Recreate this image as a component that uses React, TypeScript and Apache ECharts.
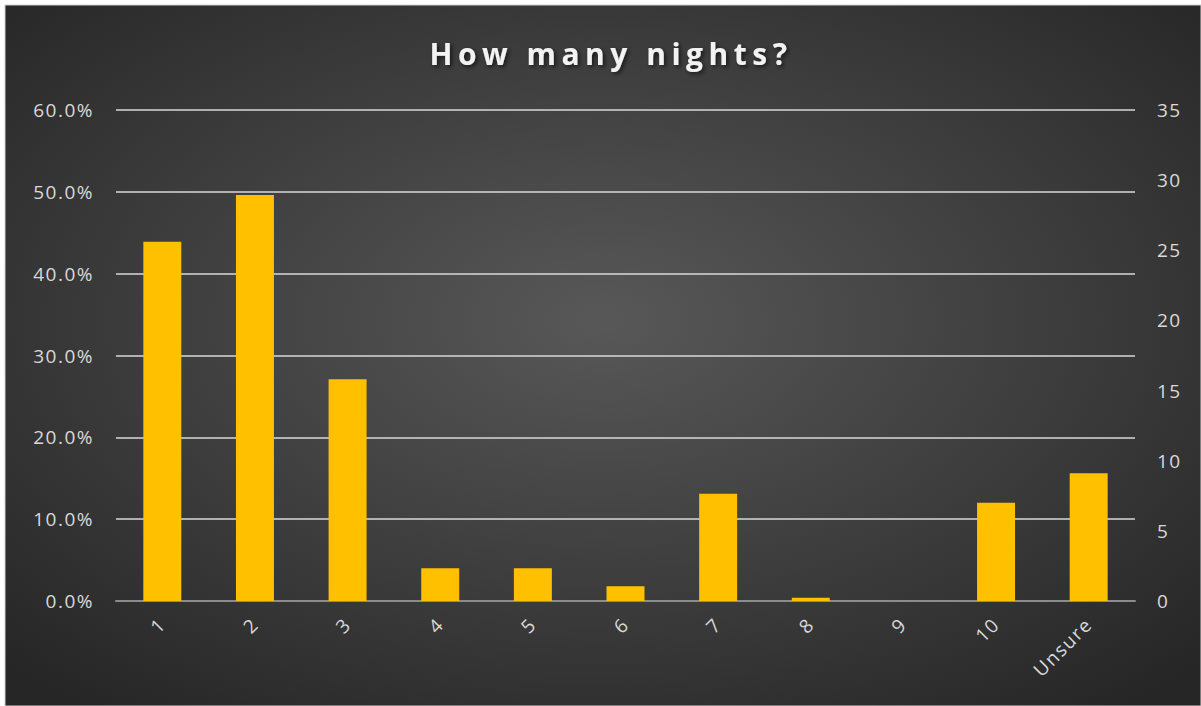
import React, { useEffect, useRef } from "react";
import * as echarts from "echarts";

const categories = ["1", "2", "3", "4", "5", "6", "7", "8", "9", "10", "Unsure"];
const percentValues = [0.439, 0.496, 0.271, 0.04, 0.04, 0.018, 0.131, 0.004, 0, 0.12, 0.156];
const leftTicks = { min: 0, max: 0.6, interval: 0.1 };
const rightTicks = { min: 0, max: 35, interval: 5 };
const title = "How many nights?";

export default function App() {
  const ref = useRef<HTMLDivElement>(null);
  useEffect(() => {
    document.body.style.margin = "0";
    const chart = echarts.init(ref.current!, undefined, { renderer: "svg" });
    const labelColor = "#d9d9d9";
    const font = "Open Sans";
    chart.setOption({
      animation: false,
      backgroundColor: "#ffffff",
      graphic: [
        {
          type: "rect",
          z: -10,
          shape: { x: 5, y: 5, width: 1196, height: 701 },
          style: {
            fill: new echarts.graphic.RadialGradient(0.5, 0.45, 0.7, [
              { offset: 0, color: "#585858" },
              { offset: 1, color: "#262626" },
            ]),
            stroke: "#d0d0d0",
            lineWidth: 1,
          },
        },
      ],
      title: {
        text: title,
        left: 606,
        top: 33,
        textAlign: "center",
        textStyle: {
          color: "#f2f2f2",
          fontFamily: font,
          fontWeight: "bold",
          fontSize: 30,
          textShadowColor: "rgba(0,0,0,0.6)",
          textShadowBlur: 4,
          textShadowOffsetX: 2,
          textShadowOffsetY: 2,
        },
      },
      grid: { left: 116, right: 66, top: 110, bottom: 105 },
      xAxis: {
        type: "category",
        data: categories,
        axisLine: { lineStyle: { color: "#8c8c8c", width: 2 } },
        axisTick: { show: false },
        axisLabel: {
          rotate: 45,
          color: labelColor,
          fontFamily: font,
          fontSize: 19,
          margin: 20,
          padding: [30, 0, 0, 0],
        },
      },
      yAxis: [
        {
          type: "value",
          ...leftTicks,
          axisLine: { show: false },
          axisTick: { show: false },
          splitLine: { lineStyle: { color: "#d9d9d9", width: 1.5 } },
          axisLabel: {
            color: labelColor,
            fontFamily: font,
            fontSize: 19,
            margin: 22,
            formatter: (v: number) => (v * 100).toFixed(1) + "%",
          },
        },
        {
          type: "value",
          ...rightTicks,
          position: "right",
          axisLine: { show: false },
          axisTick: { show: false },
          splitLine: { show: false },
          axisLabel: {
            color: labelColor,
            fontFamily: font,
            fontSize: 19,
            margin: 22,
          },
        },
      ],
      series: [
        {
          type: "bar",
          yAxisIndex: 0,
          data: percentValues,
          barWidth: "41%",
          itemStyle: { color: "#ffc000" },
        },
      ],
    });
    const texts = ref.current!.querySelectorAll("text");
    texts.forEach((t) => {
      if ((t.textContent || "").trim() === title) {
        (t as SVGTextElement).style.letterSpacing = "5.5px";
      } else {
        (t as SVGTextElement).style.letterSpacing = "1.5px";
      }
    });
    return () => chart.dispose();
  }, []);
  return <div ref={ref} style={{ width: 1201, height: 706 }} />;
}
